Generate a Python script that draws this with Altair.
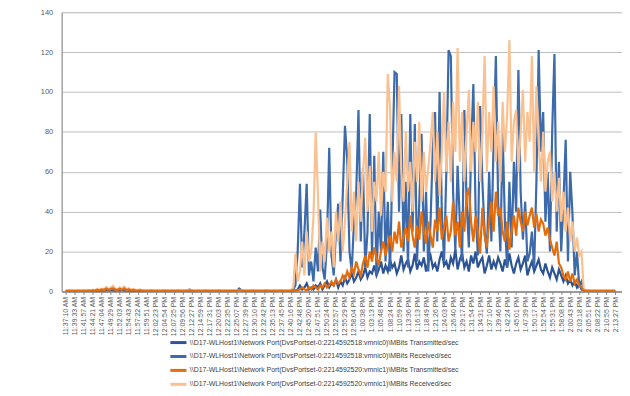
import json
import altair as alt
import pandas as pd

time_labels = [
    "11:37:10 AM", "11:39:33 AM", "11:41:57 AM", "11:44:21 AM", "11:47:04 AM", "11:49:29 AM",
    "11:52:03 AM", "11:54:43 AM", "11:57:22 AM", "11:59:51 AM", "12:02:23 PM", "12:04:54 PM",
    "12:07:25 PM", "12:09:56 PM", "12:12:27 PM", "12:14:59 PM", "12:17:31 PM", "12:20:03 PM",
    "12:22:35 PM", "12:25:07 PM", "12:27:39 PM", "12:30:10 PM", "12:32:42 PM", "12:35:13 PM",
    "12:37:45 PM", "12:40:16 PM", "12:42:48 PM", "12:45:20 PM", "12:47:51 PM", "12:50:24 PM",
    "12:52:57 PM", "12:55:29 PM", "12:58:04 PM", "1:00:38 PM", "1:03:13 PM", "1:05:48 PM",
    "1:08:24 PM", "1:10:59 PM", "1:13:36 PM", "1:16:13 PM", "1:18:49 PM", "1:21:26 PM",
    "1:24:03 PM", "1:26:40 PM", "1:29:17 PM", "1:31:54 PM", "1:34:31 PM", "1:37:10 PM",
    "1:39:46 PM", "1:42:24 PM", "1:45:01 PM", "1:47:39 PM", "1:50:17 PM", "1:52:54 PM",
    "1:55:31 PM", "1:58:08 PM", "2:00:43 PM", "2:03:18 PM", "2:05:51 PM", "2:08:22 PM",
    "2:10:55 PM", "2:13:27 PM",
]
steps_per_label = 4

series_names = [
    "\\\\D17-WLHost1\\Network Port(DvsPortset-0:2214592518:vmnic0)\\MBits Transmitted/sec",
    "\\\\D17-WLHost1\\Network Port(DvsPortset-0:2214592518:vmnic0)\\MBits Received/sec",
    "\\\\D17-WLHost1\\Network Port(DvsPortset-0:2214592520:vmnic1)\\MBits Transmitted/sec",
    "\\\\D17-WLHost1\\Network Port(DvsPortset-0:2214592520:vmnic1)\\MBits Received/sec",
]
series_colors = ["#2C5494", "#3C6AAA", "#E46C0A", "#FAC090"]

vmnic0_tx = [
    0.2, 0.2, 0.2, 0.2, 0.2, 0.2, 0.2, 0.2, 0.2, 0.2, 0.2, 0.2, 0.3, 0.2, 0.4, 0.3, 0.5,
    0.3, 0.6, 0.4, 0.7, 0.5, 0.3, 0.6, 0.4, 0.7, 0.3, 0.5, 0.3, 0.4, 0.2, 0.3, 0.2, 0.2,
    0.2, 0.2, 0.2, 0.2, 0.2, 0.2, 0.2, 0.2, 0.2, 0.2, 0.2, 0.2, 0.2, 0.2, 0.2, 0.2, 0.2,
    0.2, 0.2, 0.2, 0.3, 0.6, 0.3, 0.2, 0.2, 0.2, 0.2, 0.2, 0.2, 0.2, 0.2, 0.2, 0.2, 0.2,
    0.2, 0.2, 0.2, 0.2, 0.2, 0.2, 0.2, 0.2, 0.2, 0.8, 0.4, 0.2, 0.2, 0.2, 0.2, 0.2, 0.2,
    0.2, 0.2, 0.2, 0.2, 0.2, 0.2, 0.2, 0.2, 0.2, 0.2, 0.2, 0.2, 0.2, 0.2, 0.2, 0.3, 0.5,
    0.3, 1, 3, 1, 2, 4, 1, 2, 1, 3,
    2, 4, 1, 3, 5, 2, 4, 3, 6, 2,
    5, 3, 7, 4, 6, 9, 5, 7, 10, 6,
    8, 12, 7, 10, 9, 13, 8, 11, 15, 9,
    13, 10, 16, 12, 14, 9, 12, 18, 11, 14,
    16, 10, 13, 19, 11, 15, 13, 17, 10, 15,
    18, 12, 14, 10, 16, 20, 13, 15, 11, 17,
    14, 21, 11, 16, 19, 12, 15, 10, 18, 14,
    20, 12, 15, 17, 9, 13, 18, 11, 15, 12,
    17, 14, 10, 16, 12, 19, 13, 9, 14, 17,
    11, 14, 18, 8, 12, 15, 10, 13, 16, 11,
    9, 14, 10, 7, 12, 9, 6, 11, 8, 5,
    8, 4, 6, 3, 5, 2, 4, 1, 0.5, 0.3, 0.3,
    0.2, 0.2, 0.2, 0.2, 0.2, 0.2, 0.2, 0.2, 0.2, 0.2, 0.2, 0.2,
]

vmnic0_rx = [
    0.2, 0.2, 0.3, 0.2, 0.2, 0.2, 0.3, 0.2, 0.2, 0.2, 0.3, 0.2, 0.4, 0.3, 0.6, 0.4, 0.8,
    0.5, 1.0, 0.6, 1.2, 0.8, 0.5, 0.9, 0.6, 1.1, 0.5, 0.8, 0.4, 0.6, 0.3, 0.4, 0.3, 0.2,
    0.2, 0.3, 0.2, 0.2, 0.2, 0.3, 0.2, 0.2, 0.2, 0.3, 0.2, 0.2, 0.2, 0.3, 0.2, 0.2, 0.2,
    0.2, 0.3, 0.2, 0.5, 1.0, 0.4, 0.2, 0.2, 0.3, 0.2, 0.2, 0.2, 0.3, 0.2, 0.2, 0.2, 0.3,
    0.2, 0.2, 0.2, 0.3, 0.2, 0.2, 0.2, 0.3, 0.2, 1.5, 0.6, 0.2, 0.2, 0.3, 0.2, 0.2, 0.2,
    0.3, 0.2, 0.2, 0.2, 0.3, 0.2, 0.2, 0.2, 0.3, 0.2, 0.2, 0.2, 0.3, 0.2, 0.2, 0.4, 1.0,
    3, 20, 54, 12, 30, 54, 8, 15, 5, 22,
    10, 41, 12, 6, 25, 72, 18, 8, 30, 44,
    15, 48, 83, 66, 20, 10, 35, 50, 91, 25,
    62, 12, 30, 89, 18, 68, 8, 40, 20, 70,
    15, 45, 10, 60, 110, 109, 40, 89, 20, 55,
    12, 89, 30, 84, 15, 45, 79, 20, 50, 10,
    35, 72, 90, 25, 100, 40, 15, 60, 121, 118,
    50, 20, 63, 35, 15, 91, 45, 22, 70, 104,
    40, 18, 93, 55, 30, 19, 60, 25, 75, 118,
    45, 20, 80, 35, 12, 55, 22, 65, 40, 111,
    50, 26, 45, 15, 19, 30, 12, 55, 121, 70,
    90, 35, 60, 20, 80, 119, 30, 65, 20, 45,
    76, 15, 60, 39, 8, 20, 3, 5, 1, 0.5, 0.3,
    0.2, 0.2, 0.2, 0.2, 0.2, 0.2, 0.2, 0.2, 0.2, 0.2, 0.2, 0.2,
]

vmnic1_tx = [
    0.3, 0.3, 0.3, 0.3, 0.3, 0.3, 0.3, 0.3, 0.3, 0.3, 0.4, 0.3, 0.5, 0.4, 0.8, 0.5, 1.0,
    0.7, 1.4, 0.8, 1.2, 1.6, 0.9, 0.7, 1.3, 0.8, 1.5, 0.7, 1.0, 0.6, 0.8, 0.5, 0.4, 0.5,
    0.4, 0.3, 0.3, 0.3, 0.4, 0.3, 0.3, 0.3, 0.3, 0.3, 0.4, 0.3, 0.3, 0.3, 0.3, 0.3, 0.4,
    0.3, 0.3, 0.3, 0.3, 0.5, 0.3, 0.3, 0.3, 0.3, 0.3, 0.3, 0.4, 0.3, 0.3, 0.3, 0.3, 0.3,
    0.4, 0.3, 0.3, 0.3, 0.3, 0.3, 0.3, 0.3, 0.3, 0.5, 0.4, 0.3, 0.3, 0.3, 0.3, 0.4, 0.3,
    0.3, 0.3, 0.3, 0.3, 0.4, 0.3, 0.3, 0.3, 0.3, 0.3, 0.3, 0.4, 0.3, 0.3, 0.3, 0.4, 0.6,
    0.5, 0.5, 1, 2, 1, 0.5, 2, 1, 3, 2,
    1, 3, 2, 4, 2, 3, 5, 3, 6, 4,
    5, 8, 6, 10, 7, 12, 9, 15, 11, 8,
    14, 18, 12, 20, 15, 22, 17, 13, 20, 25,
    18, 23, 28, 20, 30, 24, 35, 22, 27, 32,
    25, 38, 28, 22, 33, 26, 40, 30, 24, 35,
    28, 22, 36, 30, 42, 26, 32, 38, 25, 30,
    45, 28, 35, 22, 40, 30, 48, 52, 35, 25,
    38, 30, 19, 42, 28, 22, 35, 45, 30, 50,
    38, 42, 30, 25, 35, 21, 30, 38, 28, 42,
    35, 30, 40, 33, 38, 42, 32, 39, 30, 36,
    34, 28, 32, 26, 22, 18, 25, 14, 12, 8,
    6, 10, 5, 9, 4, 6, 3, 2, 0.5, 0.3, 0.3,
    0.3, 0.3, 0.3, 0.3, 0.3, 0.3, 0.3, 0.3, 0.3, 0.3, 0.3, 0.3,
]

vmnic1_rx = [
    0.5, 0.5, 0.6, 0.5, 0.5, 0.6, 0.5, 0.5, 0.6, 0.5, 0.7, 0.6, 0.8, 0.6, 1.2, 0.8, 1.5,
    1.0, 2.2, 1.2, 1.8, 2.8, 1.4, 1.0, 2.0, 1.3, 2.4, 1.1, 1.6, 0.9, 1.2, 0.8, 0.7, 1.0,
    0.6, 0.5, 0.6, 0.5, 0.7, 0.5, 0.5, 0.6, 0.5, 0.5, 0.6, 0.5, 0.5, 0.6, 0.5, 0.5, 0.6,
    0.5, 0.5, 0.6, 0.5, 0.9, 0.6, 0.5, 0.5, 0.6, 0.5, 0.5, 0.6, 0.5, 0.5, 0.6, 0.5, 0.5,
    0.6, 0.5, 0.5, 0.6, 0.5, 0.5, 0.6, 0.5, 0.5, 0.6, 0.5, 0.8, 0.6, 0.5, 0.5, 0.6, 0.5,
    0.5, 0.6, 0.5, 0.5, 0.6, 0.5, 0.5, 0.6, 0.5, 0.5, 0.6, 0.5, 0.5, 0.6, 0.5, 0.8, 2.0,
    19, 5, 10, 25, 8, 30, 15, 20, 37, 80,
    49, 10, 25, 15, 37, 20, 30, 12, 40, 25,
    45, 20, 35, 55, 75, 30, 50, 25, 55, 35,
    60, 77, 40, 63, 30, 55, 45, 70, 38, 60,
    50, 109, 92, 45, 70, 55, 103, 60, 45, 80,
    50, 65, 40, 75, 55, 85, 45, 70, 50, 62,
    75, 90, 55, 80, 48, 70, 100, 60, 85, 55,
    95, 70, 122, 65, 90, 55, 80, 101, 60, 85,
    70, 95, 55, 80, 118, 60, 90, 70, 103, 65,
    85, 55, 95, 70, 88, 126, 65, 85, 91, 60,
    80, 101, 65, 90, 75, 118, 60, 103, 75, 55,
    80, 50, 65, 70, 45, 60, 40, 57, 35, 50,
    30, 42, 25, 35, 20, 27, 18, 20, 1, 0.6, 0.5,
    0.5, 0.5, 0.5, 0.5, 0.5, 0.5, 0.5, 0.5, 0.5, 0.5, 0.5, 0.5,
]

series_values = [vmnic0_tx, vmnic0_rx, vmnic1_tx, vmnic1_rx]
draw_order = [0, 1, 3, 2]  # blues first, peach over them, orange on top

FONT = "Liberation Sans"
n_steps = (len(time_labels) - 1) * steps_per_label
tick_vals = list(range(0, n_steps + 1, steps_per_label))
label_expr = json.dumps(time_labels) + "[round(datum.value / %d)]" % steps_per_label

color_scale = alt.Scale(domain=series_names, range=series_colors)

layers = []
for k in draw_order:
    vals = series_values[k]
    df = pd.DataFrame({"step": list(range(len(vals))), "value": vals, "series": series_names[k]})
    layers.append(
        alt.Chart(df).mark_line(strokeWidth=2.2, clip=True).encode(
            x=alt.X(
                "step:Q",
                scale=alt.Scale(domain=[-1.8, n_steps + 3], nice=False, zero=False),
                axis=alt.Axis(
                    values=tick_vals, labelExpr=label_expr, labelAngle=270, labelAlign="right",
                    labelBaseline="middle", labelFontSize=7, labelFont=FONT, labelColor="#595959",
                    labelPadding=2, tickSize=3, tickColor="#868686", domainColor="#868686",
                    domainWidth=1.5, grid=False, title=None, labelOverlap=False, labelFlush=False,
                ),
            ),
            y=alt.Y(
                "value:Q",
                scale=alt.Scale(domain=[0, 140], nice=False),
                axis=alt.Axis(
                    values=[0, 20, 40, 60, 80, 100, 120, 140], labelFontSize=7.5, labelFont=FONT,
                    labelColor="#595959", labelPadding=9, ticks=False, domainColor="#868686",
                    gridColor="#C0C0C0", gridWidth=1, title=None,
                ),
            ),
            color=alt.Color(
                "series:N", scale=color_scale,
                legend=alt.Legend(
                    orient="none", legendX=110, legendY=325, direction="vertical", title=None,
                    symbolType="M-1.35,0H1.35", symbolStrokeWidth=3, symbolSize=144,
                    symbolFillColor="transparent", labelFontSize=7,
                    labelFont=FONT, labelColor="#404040", labelLimit=0, rowPadding=0,
                    padding=0, labelOffset=4,
                ),
            ),
        )
    )

chart = alt.layer(*layers).properties(
    width=564,
    height=281,
    padding={"left": 54, "top": 3, "right": 0, "bottom": 104},
    autosize=alt.AutoSizeParams(type="none"),
).configure_view(stroke=None).configure(background="white")

chart.save("out.html", embed_options={"renderer": "svg", "actions": False})
